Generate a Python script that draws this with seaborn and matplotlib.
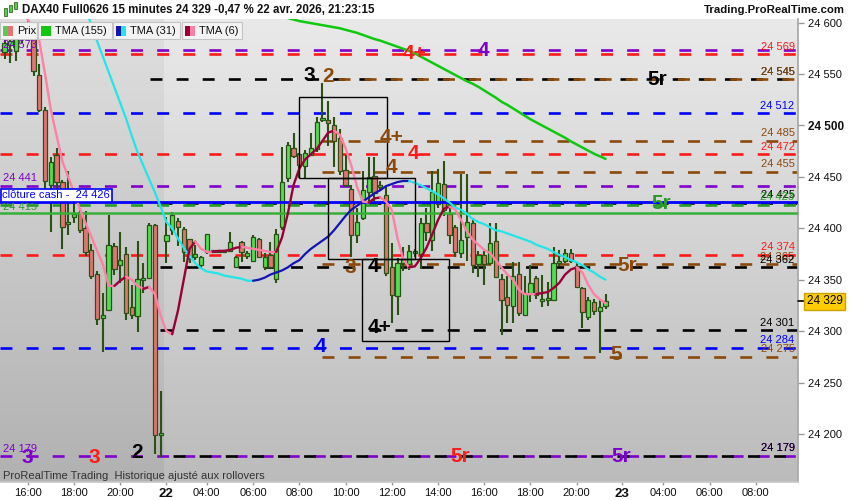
import numpy as np
import pandas as pd
import matplotlib
matplotlib.use("Agg")
import matplotlib.pyplot as plt
import matplotlib.transforms as mtransforms
from matplotlib.patches import Rectangle
import seaborn as sns

sns.set_theme(style="white")
plt.rcParams["font.family"] = ["Liberation Sans", "DejaVu Sans"]
plt.rcParams["lines.scale_dashes"] = False

# ---------------- data ----------------
opens = [24571,24578,24572,24586,24592,24586,24549,24515,24442,24471,
         24445,24404,24411,24416,24400,24379,24356,24313,24321,24383,
         24364,24375,24323,24315,24350,24352,24403,24199,24388,24398,
         24407,24399,24390,24372,24364,24377,24377,24378,24377,24378,
         24362,24387,24373,24368,24390,24362,24374,24351,24401,24449,
         24478,24472,24461,24471,24477,24505,24505,24500,24488,24457,
         24438,24393,24410,24435,24451,24440,24432,24362,24334,24366,
         24365,24376,24375,24405,24389,24424,24443,24414,24401,24376,
         24392,24405,24365,24374,24366,24388,24351,24333,24324,24356,
         24316,24337,24352,24329,24330,24330,24366,24368,24376,24363,
         24342,24314,24328,24320,24324]
highs = [24590,24592,24596,24600,24602,24592,24560,24518,24469,24478,
         24447,24456,24430,24420,24417,24385,24358,24337,24413,24386,
         24396,24382,24345,24388,24366,24405,24404,24242,24411,24416,
         24410,24401,24390,24384,24373,24394,24379,24379,24379,24396,
         24373,24388,24378,24393,24391,24376,24387,24399,24479,24484,
         24493,24473,24476,24493,24508,24541,24524,24508,24497,24471,
         24442,24420,24456,24469,24469,24446,24440,24386,24371,24382,
         24384,24380,24410,24420,24456,24458,24465,24425,24403,24453,
         24453,24410,24378,24378,24405,24405,24356,24354,24367,24367,
         24354,24364,24354,24355,24348,24382,24379,24380,24380,24366,
         24343,24333,24331,24330,24336]
lows = [24565,24561,24563,24580,24582,24548,24513,24438,24396,24430,
        24380,24393,24405,24395,24373,24351,24306,24280,24320,24355,
        24347,24311,24312,24299,24337,24352,24181,24178,24366,24393,
        24383,24367,24366,24369,24360,24375,24376,24377,24376,24383,
        24361,24367,24370,24367,24371,24359,24361,24347,24398,24445,
        24468,24449,24449,24470,24474,24503,24480,24460,24452,24440,
        24372,24386,24408,24427,24427,24436,24354,24308,24316,24358,
        24359,24372,24360,24388,24378,24420,24412,24385,24372,24371,
        24368,24357,24353,24345,24364,24352,24296,24308,24308,24315,
        24315,24328,24331,24323,24324,24330,24363,24366,24366,24343,
        24303,24311,24316,24279,24322]
closes = [24580,24582,24585,24592,24588,24553,24515,24446,24464,24445,
          24401,24406,24414,24398,24377,24354,24312,24316,24384,24360,
          24369,24318,24316,24351,24352,24403,24199,24201,24393,24413,
          24401,24377,24371,24375,24372,24394,24378,24377,24378,24387,
          24372,24377,24376,24392,24372,24372,24362,24394,24445,24481,
          24470,24462,24473,24478,24503,24506,24502,24485,24456,24442,
          24393,24406,24437,24450,24434,24442,24357,24335,24366,24370,
          24378,24377,24405,24396,24435,24444,24418,24393,24377,24389,
          24406,24364,24374,24365,24386,24353,24330,24325,24354,24318,
          24337,24347,24335,24331,24331,24366,24368,24376,24368,24343,
          24319,24330,24320,24323,24329]

tma6 = [24640,24632,24622,24612,24603,24594,24582,24550,24515,24490,
        24465,24450,24435,24419,24405,24392,24378,24365,24344,24344,
        24349,24353,24350,24344,24341,24343,24336,24315,24300,24297,
        24320,24350,24380,24387,24380,24377,24377,24378,24378,24379,
        24381,24382,24381,24380,24379,24378,24377,24377,24391,24414,
        24442,24458,24467,24472,24477,24485,24493,24495,24491,24478,
        24461,24440,24426,24425,24429,24430,24426,24418,24390,24370,
        24362,24363,24371,24381,24394,24408,24419,24421,24418,24408,
        24397,24389,24384,24379,24376,24369,24362,24355,24350,24340,
        24336,24336,24336,24337,24338,24342,24347,24355,24360,24362,
        24357,24345,24336,24331,24327]
nan = np.nan
tma31 = [nan]*10 + [24670,24656,24642,24627,24613,24598,
         24582,24567,24552,24537,24522,24507,24490,24474,24461,24448,24435,24421,24406,24400,
         24390,24381,24373,24366,24361,24358,24357,24356,24354,24353,
         24352,24351,24349,24349,24350,24352,24355,24357,24359,24362,
         24366,24369,24375,24380,24384,24388,24392,24398,24405,24412,
         24418,24422,24426,24430,24434,24437,24441,24443,24445,24446,
         24446,24444,24442,24439,24436,24433,24429,24425,24420,24418,
         24414,24409,24406,24404,24401,24398,24397,24395,24393,24391,
         24389,24387,24384,24382,24380,24377,24374,24372,24369,24367,
         24364,24360,24357,24353,24350]
tma155 = [nan]*46 + [24608,24607,24606,24604.5,24603,24601.5,24600.5,24599.5,24598.5,24597.5,
          24596.5,24595.5,24594.5,24593,24591.5,24590,24588,24586,24584,24582.5,
          24580.5,24578.5,24576.5,24574.5,24572.5,24570,24567,24564,24561,24558,
          24555,24552,24549,24546,24543,24540.5,24537.5,24534,24530.5,24527,
          24523,24520,24516.5,24513,24509.5,24506,24503,24500,24497,24494,
          24491,24488,24484.5,24481.5,24478.5,24475.5,24472.5,24470,24467.5]

# horizontal levels
level_prices = [24573, 24569, 24545, 24545, 24512, 24485, 24472, 24455, 24441,
                24425, 24423, 24374, 24365, 24362, 24301, 24284, 24275, 24179, 24179]
level_kinds = ["purple", "red", "black", "brown", "blue", "brown", "red", "brown", "purple",
               "black", "green", "red", "brown", "black", "black", "blue", "brown", "purple", "black"]
level_start = [None, None, 25.2, 55.4, None, 55.0, None, 55.0, None,
               26.9, None, None, 55.0, 26.9, 26.9, None, 55.0, None, 26.9]
level_right_labels = ["", "24 569", "24 545", "24 545", "24 512", "24 485", "24 472", "24 455", "",
                      "24 425", "24 423", "24 374", "24 365", "24 362", "24 301", "24 284", "24 275",
                      "24 179", "24 179"]
cash_close = 24426
ma_green_level = 24415

# level tags drawn on the chart
tag_text = ["3", "2", "4+", "4", "5r", "4+", "4", "4", "5r", "3", "4", "5r", "4+", "4", "5",
            "3", "3", "2", "5r", "5r"]
tag_bar = [52.8, 56.0, 71.0, 82.9, 112.9, 66.9, 70.8, 66.9, 113.7, 59.9, 63.9, 107.7, 64.9, 54.7,
           105.8, 3.9, 15.6, 22.9, 78.8, 106.8]
tag_price = [24549, 24548, 24570, 24573, 24545, 24488, 24473, 24459, 24424, 24362, 24363, 24364,
             24304, 24285, 24277, 24177, 24177, 24182, 24178, 24178]
tag_kind = ["black", "brown", "red", "purple", "black", "brown", "red", "brown", "green", "brown",
            "black", "brown", "black", "blue", "brown", "purple", "red", "black", "red", "purple"]

# pattern boxes: (bar from, bar to, low, high)
box_x0 = [51.0, 56.0, 61.8]
box_x1 = [66.1, 71.0, 76.9]
box_lo = [24449, 24370, 24290]
box_hi = [24528, 24449, 24370]

left_label_text = ["24 573", "24 441", "24 415", "24 179"]
left_label_price = [24578, 24449, 24421, 24185]
left_label_kind = ["purple", "purple", "green", "purple"]

time_tick_pos = [4, 12, 20, 27.9, 35, 43, 51, 59, 67, 75, 83, 91, 99, 106.8, 114, 122, 130]
time_tick_lab = ["16:00", "18:00", "20:00", "22", "04:00", "06:00", "08:00", "10:00", "12:00",
                 "14:00", "16:00", "18:00", "20:00", "23", "04:00", "06:00", "08:00"]
price_ticks = [24200, 24250, 24300, 24350, 24400, 24450, 24500, 24550, 24600]
last_price = 24329
day_split = 27.6

# ---------------- styling ----------------
COL = {"purple": "#7f00cc", "red": "#ff1a1a", "black": "#000000", "brown": "#8b4a0b",
       "blue": "#0000ff", "green": "#2a9a2a"}
C_UP, C_DN, C_WICK = "#55dd55", "#e57373", "#2a5214"
XMIN, XMAX = -0.8, 137.3
YMIN, YMAX = 24153.3, 24603.5

W, H = 850, 500
fig = plt.figure(figsize=(W / 100, H / 100), dpi=100, facecolor="white")
ax = fig.add_axes([0, 18 / H, 798 / W, 463 / H])

# background gradient (previous session darker)
grad = np.linspace(0.915, 0.735, 256)[:, None, None] * np.ones((1, 1, 3))
ax.imshow(np.clip(grad - 0.04, 0, 1), extent=[XMIN, day_split, YMIN, YMAX], aspect="auto",
          origin="upper", zorder=0, interpolation="bilinear")
ax.imshow(grad, extent=[day_split, XMAX, YMIN, YMAX], aspect="auto",
          origin="upper", zorder=0, interpolation="bilinear")

df = pd.DataFrame({"bar": np.arange(len(opens)), "open": opens, "high": highs,
                   "low": lows, "close": closes, "tma6": tma6, "tma31": tma31, "tma155": tma155})

# levels
dash = (8.6, 10.2)
for p, k, s in zip(level_prices, level_kinds, level_start):
    x0 = XMIN if s is None else s
    off = 9.4 if (k == "brown" and p == 24545) or (k == "black" and p == 24179) else 0
    ax.plot([x0, XMAX], [p, p], color=COL[k], lw=1.9, linestyle=(off, dash), zorder=2)
ax.plot([XMIN, XMAX], [cash_close, cash_close], color="#0000ff", lw=2.0, zorder=4.2)
ax.plot([XMIN, XMAX], [ma_green_level, ma_green_level], color="#36b036", lw=1.8, zorder=4.2)

# right-hand level labels
xr = 136.7
for p, k, t in zip(level_prices, level_kinds, level_right_labels):
    if t:
        ax.text(xr, p + 2.5, t, ha="right", va="bottom", color=COL[k], fontsize=8, zorder=6)

# candles
up = df["close"] >= df["open"]
body_lo = np.minimum(df["open"], df["close"])
body_h = np.maximum((df["close"] - df["open"]).abs(), 1.8)
ax.vlines(df["bar"], df["low"], df["high"], color=C_WICK, lw=1.5, zorder=3)
ax.bar(df["bar"], body_h, bottom=body_lo, width=0.74, color=np.where(up, C_UP, C_DN),
       edgecolor=C_WICK, linewidth=0.9, zorder=3.5)


def split_plot(x, y, c_up, c_dn, lw):
    x = np.asarray(x, float)
    y = np.asarray(y, float)
    ok = ~np.isnan(y)
    x, y = x[ok], y[ok]
    d = np.sign(np.diff(y))
    start = 0
    for k in range(1, len(d) + 1):
        if k == len(d) or (d[k] != d[start] and d[k] != 0):
            col = c_up if d[start] > 0 else c_dn
            ax.plot(x[start:k + 1], y[start:k + 1], color=col, lw=lw, zorder=5,
                    solid_capstyle="round", solid_joinstyle="round")
            start = k


sns.lineplot(data=df.dropna(subset=["tma155"]), x="bar", y="tma155", color="#10c810",
             lw=1.8, ax=ax, zorder=5)
split_plot(df["bar"], df["tma31"], "#1414b4", "#22e5e8", 1.6)
split_plot(df["bar"], df["tma6"], "#9a0038", "#ff7fa5", 1.7)

# boxes
for a, b, lo, hi in zip(box_x0, box_x1, box_lo, box_hi):
    ax.add_patch(Rectangle((a, lo), b - a, hi - lo, fill=False, ec="black", lw=1.0, zorder=5.5))

# tags
for t, xb, p, k in zip(tag_text, tag_bar, tag_price, tag_kind):
    ax.text(xb, p, t, ha="center", va="center", color=COL[k], fontsize=15,
            fontweight="bold", zorder=6)

blend = mtransforms.blended_transform_factory(ax.transAxes, ax.transData)
for t, p, k in zip(left_label_text, left_label_price, left_label_kind):
    ax.text(0.004, p, t, transform=blend, ha="left", va="center", color=COL[k], fontsize=8, zorder=6)
ax.text(0.003, 24432, "clôture cash -  24 426", transform=blend, ha="left", va="center",
        color="#0000ff", fontsize=8, zorder=7,
        bbox=dict(boxstyle="square,pad=0.15", fc="white", ec="#0000ff", lw=1.2))
ax.text(0.004, 24159, "ProRealTime Trading  Historique ajusté aux rollovers", transform=blend,
        ha="left", va="center", color="#333333", fontsize=8, zorder=6)

# axes
ax.set_xlim(XMIN, XMAX)
ax.set_ylim(YMIN, YMAX)
ax.set_xlabel("")
ax.set_ylabel("")
ax.yaxis.tick_right()
ax.set_yticks(price_ticks)
ax.set_yticklabels([f"{v:,}".replace(",", " ") for v in price_ticks])
for lab, v in zip(ax.get_yticklabels(), price_ticks):
    lab.set_fontweight("bold" if v == 24500 else "normal")
    lab.set_fontsize(8.5 if v == 24500 else 8)
ax.set_xticks(time_tick_pos)
ax.set_xticklabels(time_tick_lab)
for lab in ax.get_xticklabels():
    if lab.get_text() in ("22", "23"):
        lab.set_fontweight("bold")
        lab.set_fontsize(9.5)
    else:
        lab.set_fontsize(8)
ax.tick_params(axis="y", right=True, left=False, length=4, width=1, color="#999999",
               pad=3, labelcolor="#111111")
ax.tick_params(axis="x", bottom=True, length=2.5, width=1, color="#999999", pad=1.5,
               labelcolor="#111111")
for s in ["top", "left"]:
    ax.spines[s].set_visible(False)
ax.spines["right"].set_color("#a8a8a8")
ax.spines["bottom"].set_color("#c8c8c8")
ax.grid(False)

# last price marker
ax.plot([1.0, 1.008], [last_price, last_price], transform=blend, color="black", lw=1.2,
        clip_on=False, zorder=7)
ax.text(1.011, last_price, f"{last_price:,}".replace(",", " "), transform=blend, ha="left",
        va="center", fontsize=8.5, color="black", zorder=7,
        bbox=dict(boxstyle="square,pad=0.2", fc="#ffcc00", ec="#c9a400", lw=1))

# header
fx = lambda x: x / W
fy = lambda y: 1 - y / H
fig.text(fx(22), fy(10), "DAX40 Full0626 15 minutes 24 329 -0,47 % 22 avr. 2026, 21:23:15",
         ha="left", va="center", fontsize=8.3, fontweight="bold", color="#111111")
fig.text(fx(845), fy(10), "Trading.ProRealTime.com", ha="right", va="center", fontsize=8.2,
         fontweight="bold", color="#111111")
for (x0, y0, h, c) in [(4, 8, 8, "#55cc55"), (9, 5, 7, "#55cc55"), (14, 2, 7, "#55cc55")]:
    fig.add_artist(Rectangle((fx(x0), fy(y0 + h)), 3 / W, h / H, transform=fig.transFigure,
                             fc=c, ec="#3a6a20", lw=0.6))

# legend row
legend_items = [("Prix", 0, 37, ("#55cc55", "#e57373")),
                ("TMA (155)", 38, 112, ("#10c810", "#10c810")),
                ("TMA (31)", 113, 180, ("#1414b4", "#22e5e8")),
                ("TMA (6)", 182, 242, ("#9a0038", "#ff7fa5"))]
for name, x0, x1, (c1, c2) in legend_items:
    fig.add_artist(Rectangle((fx(x0), fy(39)), (x1 - x0) / W, 16.5 / H, transform=fig.transFigure,
                             fc="#f3f3f3", ec="#c4c4c4", lw=0.8, zorder=8))
    fig.add_artist(Rectangle((fx(x0 + 3), fy(36)), 5 / W, 10 / H, transform=fig.transFigure,
                             fc=c1, ec="none", zorder=9))
    fig.add_artist(Rectangle((fx(x0 + 8), fy(36)), 5 / W, 10 / H, transform=fig.transFigure,
                             fc=c2, ec="none", zorder=9))
    fig.text(fx(x0 + 17), fy(31), name, ha="left", va="center", fontsize=8, color="#111111",
             zorder=10)

fig.savefig("out.png", dpi=100, facecolor="white")
